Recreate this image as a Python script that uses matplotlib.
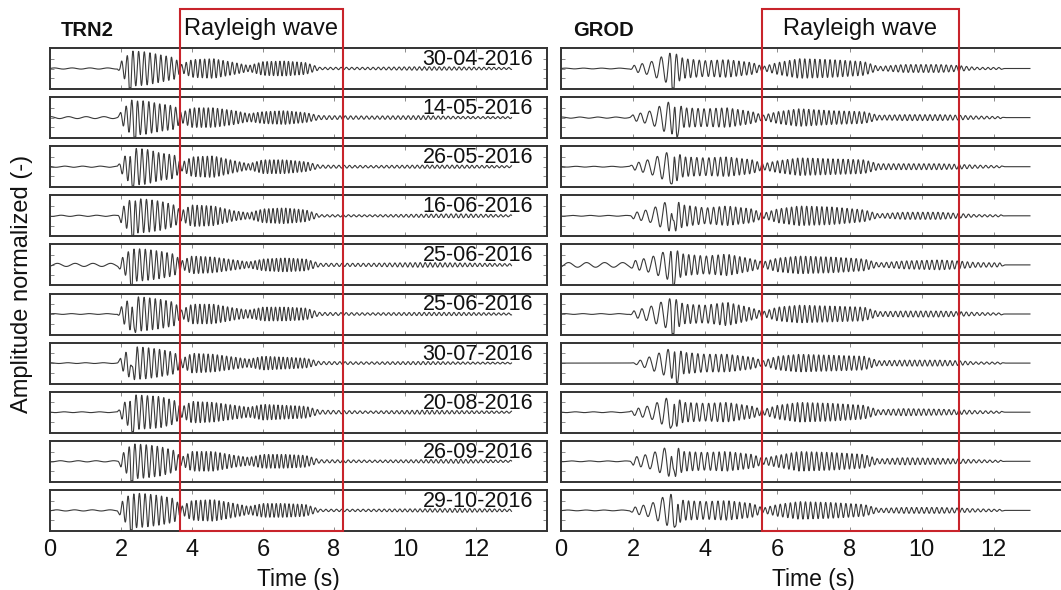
import numpy as np
import matplotlib
matplotlib.use("Agg")
import matplotlib.pyplot as plt
from matplotlib.patches import Rectangle
from matplotlib.transforms import blended_transform_factory

plt.rcParams['font.family'] = ['Liberation Sans', 'DejaVu Sans']

# event dates (one trace per row)
dates = ["30-04-2016", "14-05-2016", "26-05-2016", "16-06-2016", "25-06-2016",
         "25-06-2016", "30-07-2016", "20-08-2016", "26-09-2016", "29-10-2016"]

# Rayleigh wave window (s)
trn_window = [3.66, 8.25]
grod_window = [5.57, 11.02]

# TRN2: envelope knots (s), carrier period (s) and per-row envelope amplitude
trn_t = [0, 1.9, 2.0, 2.3, 2.7, 3.1, 3.5, 3.7, 4.0, 4.6, 5.2, 5.6, 6.0, 6.6, 7.2, 7.6, 9.0, 10.5, 11.5, 13.0]
trn_period = [0.5, 0.5, 0.16, 0.16, 0.16, 0.15, 0.15, 0.13, 0.13, 0.13, 0.13, 0.12, 0.12, 0.12, 0.12, 0.15, 0.15, 0.14, 0.14, 0.14]
trn_amp = [
    [0.03, 0.03, 0.35, 0.9, 0.85, 0.7, 0.55, 0.2, 0.45, 0.5, 0.3, 0.15, 0.35, 0.38, 0.3, 0.06, 0.06, 0.09, 0.08, 0.05],
    [0.05, 0.05, 0.3, 0.9, 0.85, 0.7, 0.6, 0.25, 0.5, 0.5, 0.35, 0.2, 0.3, 0.35, 0.25, 0.1, 0.08, 0.1, 0.06, 0.05],
    [0.03, 0.03, 0.3, 0.95, 0.9, 0.7, 0.6, 0.2, 0.5, 0.55, 0.3, 0.15, 0.35, 0.35, 0.25, 0.08, 0.06, 0.08, 0.08, 0.05],
    [0.03, 0.03, 0.35, 0.9, 0.85, 0.75, 0.55, 0.25, 0.55, 0.5, 0.25, 0.15, 0.35, 0.4, 0.3, 0.06, 0.05, 0.08, 0.1, 0.05],
    [0.08, 0.08, 0.3, 0.85, 0.8, 0.7, 0.55, 0.2, 0.45, 0.4, 0.25, 0.15, 0.3, 0.35, 0.3, 0.08, 0.08, 0.12, 0.1, 0.06],
    [0.02, 0.02, 0.35, 0.9, 0.85, 0.75, 0.6, 0.2, 0.5, 0.5, 0.3, 0.2, 0.35, 0.35, 0.3, 0.08, 0.06, 0.08, 0.08, 0.05],
    [0.02, 0.02, 0.3, 0.85, 0.8, 0.7, 0.55, 0.2, 0.5, 0.45, 0.3, 0.2, 0.35, 0.3, 0.25, 0.08, 0.06, 0.08, 0.06, 0.04],
    [0.02, 0.02, 0.3, 0.9, 0.85, 0.8, 0.6, 0.25, 0.55, 0.5, 0.35, 0.25, 0.4, 0.35, 0.3, 0.1, 0.06, 0.1, 0.08, 0.05],
    [0.03, 0.03, 0.3, 0.9, 0.85, 0.75, 0.55, 0.2, 0.5, 0.5, 0.3, 0.2, 0.35, 0.35, 0.3, 0.08, 0.06, 0.08, 0.1, 0.05],
    [0.03, 0.03, 0.4, 0.9, 0.85, 0.75, 0.6, 0.2, 0.5, 0.55, 0.35, 0.2, 0.35, 0.35, 0.3, 0.06, 0.06, 0.08, 0.1, 0.06],
]
trn_spike = [2.25, 2.4, 2.3, 2.35, 2.3, 2.35, 2.3, 2.3, 2.3, 2.3]

# GROD
grod_t = [0, 1.9, 2.0, 2.5, 2.9, 3.1, 3.4, 4.0, 4.6, 5.3, 5.6, 6.0, 6.6, 7.5, 8.4, 8.8, 9.5, 10.5, 11.0, 11.5, 12.2, 12.3, 13.0]
grod_period = [0.5, 0.5, 0.2, 0.28, 0.25, 0.18, 0.15, 0.17, 0.15, 0.14, 0.14, 0.14, 0.14, 0.14, 0.14, 0.14, 0.14, 0.14, 0.14, 0.15, 0.15, 0.5, 0.5]
grod_amp = [
    [0.02, 0.02, 0.15, 0.35, 0.7, 0.85, 0.5, 0.4, 0.45, 0.3, 0.1, 0.3, 0.5, 0.45, 0.35, 0.1, 0.2, 0.2, 0.15, 0.06, 0.05, 0.0, 0.0],
    [0.03, 0.03, 0.15, 0.35, 0.75, 0.85, 0.5, 0.45, 0.5, 0.3, 0.12, 0.3, 0.45, 0.35, 0.3, 0.12, 0.15, 0.15, 0.12, 0.08, 0.05, 0.0, 0.0],
    [0.02, 0.02, 0.15, 0.4, 0.7, 0.85, 0.5, 0.45, 0.5, 0.35, 0.15, 0.3, 0.45, 0.4, 0.35, 0.15, 0.15, 0.15, 0.12, 0.08, 0.05, 0.0, 0.0],
    [0.02, 0.02, 0.15, 0.35, 0.7, 0.85, 0.55, 0.4, 0.5, 0.35, 0.12, 0.35, 0.5, 0.45, 0.3, 0.1, 0.18, 0.18, 0.12, 0.06, 0.05, 0.0, 0.0],
    [0.12, 0.12, 0.2, 0.4, 0.7, 0.85, 0.55, 0.45, 0.55, 0.3, 0.15, 0.35, 0.45, 0.4, 0.3, 0.1, 0.2, 0.25, 0.2, 0.12, 0.1, 0.0, 0.0],
    [0.02, 0.02, 0.15, 0.4, 0.7, 0.85, 0.5, 0.45, 0.6, 0.3, 0.12, 0.35, 0.45, 0.4, 0.35, 0.12, 0.15, 0.15, 0.12, 0.08, 0.05, 0.0, 0.0],
    [0.0, 0.0, 0.02, 0.35, 0.65, 0.8, 0.55, 0.45, 0.45, 0.3, 0.12, 0.35, 0.45, 0.4, 0.35, 0.12, 0.15, 0.15, 0.12, 0.06, 0.05, 0.0, 0.0],
    [0.02, 0.02, 0.15, 0.35, 0.7, 0.85, 0.5, 0.45, 0.5, 0.3, 0.12, 0.35, 0.5, 0.45, 0.35, 0.12, 0.18, 0.15, 0.12, 0.08, 0.05, 0.0, 0.0],
    [0.02, 0.02, 0.2, 0.4, 0.7, 0.85, 0.5, 0.45, 0.5, 0.35, 0.15, 0.3, 0.5, 0.45, 0.35, 0.12, 0.18, 0.15, 0.12, 0.08, 0.05, 0.0, 0.0],
    [0.02, 0.02, 0.15, 0.35, 0.75, 0.85, 0.5, 0.45, 0.5, 0.35, 0.12, 0.3, 0.45, 0.4, 0.3, 0.1, 0.15, 0.15, 0.12, 0.08, 0.05, 0.0, 0.0],
]
grod_spike = [3.1, 3.2, 3.1, 3.1, 3.1, 3.1, 3.2, 3.1, 3.1, 3.2]

xticks = [0, 2, 4, 6, 8, 10, 12]


def make_trace(knots, periods, amps, spike_t, row):
    t = np.linspace(0, 13, 5000)
    env = np.interp(t, knots, amps)
    per = np.interp(t, knots, periods)
    phase = 2 * np.pi * np.cumsum(1.0 / per) * (t[1] - t[0]) + 1.3 * row
    y = env * np.sin(phase) - np.exp(-((t - spike_t) / 0.035) ** 2)
    return t, np.clip(y, -1, 1)


W, H = 1061, 590
fig = plt.figure(figsize=(W / 100, H / 100), dpi=100)

row_top0, row_pitch, row_h = 48, 49.1, 41
panels = [
    dict(left=50, width=497, knots=trn_t, periods=trn_period, amps=trn_amp, spikes=trn_spike,
         window=trn_window, name="TRN2", name_x=61, dates=True),
    dict(left=561, width=505, knots=grod_t, periods=grod_period, amps=grod_amp, spikes=grod_spike,
         window=grod_window, name="GROD", name_x=573, dates=False),
]

for p in panels:
    axes = []
    for i in range(10):
        top = row_top0 + i * row_pitch
        ax = fig.add_axes([p["left"] / W, 1 - (top + row_h) / H, p["width"] / W, row_h / H])
        t, y = make_trace(p["knots"], p["periods"], p["amps"][i], p["spikes"][i], i)
        ax.plot(t, y, color="#3a3a3a", lw=0.8)
        ax.set_xlim(0, 14)
        ax.set_ylim(-1.05, 1.05)
        ax.set_xticks(xticks)
        ax.set_yticks([-0.5, 0, 0.5])
        ax.set_yticklabels([])
        ax.tick_params(direction="in", top=True, right=True, length=3, width=0.6, colors="#777777",
                       labelcolor="#111111", labelsize=17, pad=6)
        for s in ax.spines.values():
            s.set_linewidth(1.4)
            s.set_color("#333333")
        if i < 9:
            ax.set_xticklabels([])
        if p["dates"]:
            ax.text(0.972, 0.72, dates[i], transform=ax.transAxes, ha="right", va="center",
                    fontsize=15.5, color="#111111")
        axes.append(ax)

    axes[-1].set_xlabel("Time (s)", fontsize=16.5, labelpad=5, color="#111111")
    # red Rayleigh wave window spanning all rows
    tr = blended_transform_factory(axes[-1].transData, fig.transFigure)
    x0, x1 = p["window"]
    y0 = 1 - (row_top0 + 9 * row_pitch + row_h) / H
    y1 = 1 - 9 / H
    fig.add_artist(Rectangle((x0, y0), x1 - x0, y1 - y0, transform=tr, fill=False,
                             edgecolor="#c8242b", lw=1.5, clip_on=False, zorder=10))
    fig.text((x0 + x1) / 2, 1 - 29 / H, "Rayleigh wave", transform=tr, ha="center", va="center",
             fontsize=17, color="#111111")
    fig.text(p["name_x"] / W, 1 - 31 / H, p["name"], ha="left", va="center", fontsize=14.5,
             fontweight="bold", color="#111111")

fig.text(22 / W, 1 - 284 / H, "Amplitude normalized (-)", rotation=90, ha="center", va="center",
         fontsize=17, color="#111111")

fig.savefig("out.png", dpi=100)
